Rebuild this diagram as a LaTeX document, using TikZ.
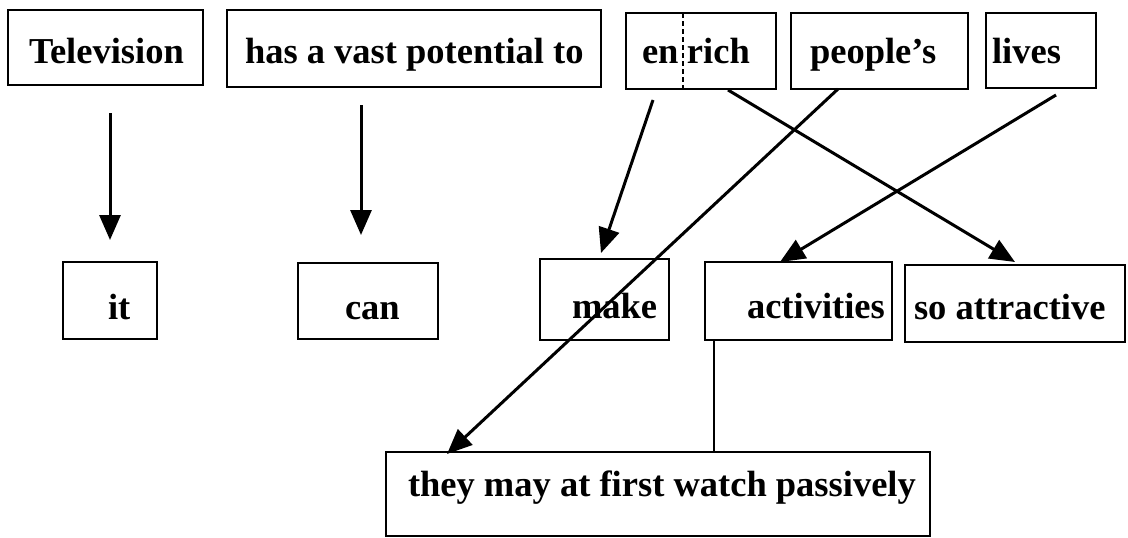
\documentclass[tikz,border=0pt]{standalone}
\usepackage{fontspec}
\setmainfont{Liberation Serif}
\usetikzlibrary{arrows.meta,calc}
\newcommand{\wtxt}[3]{\makebox[#1][l]{\hspace*{#2}#3}}
\begin{document}
\begin{tikzpicture}[x=1pt,y=-1pt,
  wbox/.style={draw,line width=2.2pt,inner sep=0pt,outer sep=0pt,anchor=north west,
    font=\bfseries\fontsize{36.5}{40}\selectfont},
  arr/.style={line width=3pt,-{Triangle[length=25pt,width=21pt]}},
  plain/.style={line width=2.6pt}]
\useasboundingbox[fill=white] (0,0) rectangle (1128,538);
% boxes: width R-L, text height = baseline-T, text depth = B-baseline
\node[wbox,text height=53pt,text depth=22pt] (tv) at (8,10) {\wtxt{195pt}{21pt}{Television}};
\node[wbox,text height=53pt,text depth=24pt] (has) at (227,10) {\wtxt{374pt}{18pt}{has a vast potential to}};
\node[wbox,text height=50pt,text depth=26pt] (enrich) at (626,13) {\wtxt{150pt}{16pt}{en\hspace*{8.5pt}rich}};
\node[wbox,text height=50pt,text depth=26pt] (people) at (791,13) {\wtxt{177pt}{19pt}{people’s}};
\node[wbox,text height=50pt,text depth=25pt] (lives) at (986,13) {\wtxt{110pt}{6pt}{lives}};
\node[wbox,text height=57pt,text depth=20pt] (it) at (63,262) {\wtxt{94pt}{45pt}{it}};
\node[wbox,text height=56pt,text depth=20pt] (can) at (298,263) {\wtxt{140pt}{47pt}{can}};
\node[wbox,text height=59pt,text depth=22pt] (make) at (540,259) {\wtxt{129pt}{32pt}{make}};
\node[wbox,text height=56pt,text depth=22pt] (act) at (705,262) {\wtxt{187pt}{42pt}{activities}};
\node[wbox,text height=54pt,text depth=23pt] (so) at (905,265) {\wtxt{220pt}{9pt}{so attractive}};
\node[wbox,text height=44pt,text depth=40pt] (they) at (386,452) {\wtxt{544pt}{22pt}{they may at first watch passively}};
% dashed split in "enrich"
\draw[line width=1.4pt,dash pattern=on 5pt off 3pt] ($(enrich.north west)+(57,0)$) -- ($(enrich.south west)+(57,0)$);
% connectors
\draw[arr] ($(tv.south)+(4.5,28)$) -- ($(it.north)+(0,-22)$);
\draw[arr] ($(has.south)+(-53,18)$) -- ($(can.north)+(-7,-28)$);
\draw[arr] ($(enrich.south)+(-48,11)$) -- ($(make.north)+(-3.5,-6)$);
\draw[arr] ($(enrich.south)+(27,1)$) -- ($(so.north)+(0,-3)$);
\draw[arr] ($(people.south)+(-41.5,0)$) -- ($(they.north west)+(61,2)$);
\draw[arr] ($(lives.south)+(15,7)$) -- ($(act.north)+(-18.5,0)$);
\draw[plain] ($(act.south west)+(9,0)$) -- ($(they.north west)+(328,0)$);
\end{tikzpicture}
\end{document}
